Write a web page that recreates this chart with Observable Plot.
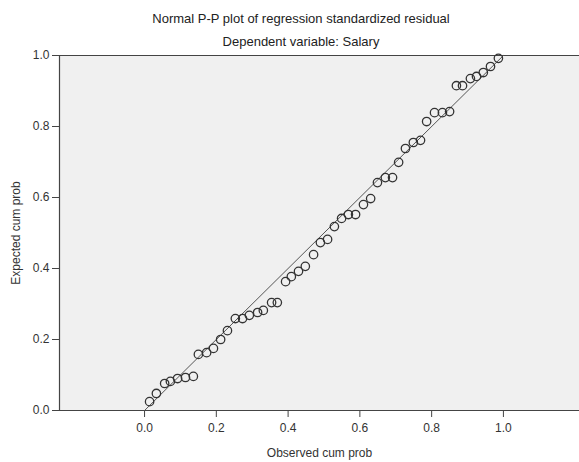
<!DOCTYPE html>
<html>
<head>
<meta charset="utf-8">
<script src="https://cdn.jsdelivr.net/npm/d3@7"></script>
<script src="https://cdn.jsdelivr.net/npm/@observablehq/plot@0.6"></script>
<style>
  body { margin: 0; background: #fff; }
  #wrap { position: relative; width: 579px; height: 462px; font-family: "Liberation Sans", Arial, sans-serif; }
  #title { position: absolute; left: 0; top: 7px; width: 602px; text-align: center; font-size: 13px; line-height: 23px; color: #222; }
</style>
</head>
<body>
<div id="wrap">
  <div id="title">
    <div>Normal P-P plot of regression standardized residual</div>
    <div>Dependent variable: Salary</div>
  </div>
</div>
<script>
const observed = [0.014,0.033,0.056,0.072,0.092,0.114,0.136,0.150,0.173,0.192,
  0.212,0.231,0.253,0.273,0.292,0.315,0.331,0.354,0.370,0.393,
  0.409,0.429,0.448,0.471,0.490,0.510,0.529,0.549,0.568,0.588,
  0.610,0.630,0.649,0.671,0.691,0.708,0.727,0.749,0.769,0.786,
  0.808,0.830,0.850,0.869,0.886,0.908,0.925,0.944,0.964,0.986];
const expected = [0.025,0.048,0.076,0.082,0.090,0.093,0.096,0.158,0.163,0.175,
  0.200,0.225,0.259,0.259,0.268,0.276,0.282,0.304,0.304,0.363,
  0.377,0.392,0.406,0.439,0.473,0.482,0.518,0.541,0.552,0.552,
  0.580,0.597,0.642,0.656,0.656,0.699,0.738,0.755,0.761,0.814,
  0.839,0.839,0.842,0.915,0.915,0.935,0.941,0.952,0.969,0.992];
const tickValues = [0, 0.2, 0.4, 0.6, 0.8, 1.0];
const xDomain = [-0.237, 1.212];
const yDomain = [0, 1];
const diagonal = [0, 1];

const points = observed.map((o, i) => ({observed: o, expected: expected[i]}));
const line = diagonal.map(v => ({observed: v, expected: v}));

const chart = Plot.plot({
  width: 579,
  height: 462,
  marginLeft: 59,
  marginRight: 0,
  marginTop: 55,
  marginBottom: 52,
  style: {fontFamily: "'Liberation Sans', Arial, sans-serif", fontSize: "12px", color: "#333", background: "transparent"},
  x: {domain: xDomain},
  y: {domain: yDomain},
  marks: [
    Plot.frame({fill: "#f0f0f0", stroke: null}),
    Plot.ruleY(yDomain, {stroke: "#444", strokeWidth: 1.2}),
    Plot.ruleX([xDomain[0]], {stroke: "#444", strokeWidth: 1.2}),
    Plot.axisX({ticks: tickValues, tickFormat: d3.format(".1f"), tickSize: 7, tickPadding: 6, stroke: "#444",
      label: "Observed cum prob", labelAnchor: "center", labelArrow: "none", labelOffset: 46}),
    Plot.axisY({ticks: tickValues, tickFormat: d3.format(".1f"), tickSize: 7, tickPadding: 3, stroke: "#444",
      label: "Expected cum prob", labelAnchor: "center", labelArrow: "none", labelOffset: 48}),
    Plot.line(line, {x: "observed", y: "expected", stroke: "#555", strokeWidth: 1}),
    Plot.dot(points, {x: "observed", y: "expected", r: 4.2, stroke: "#333", strokeWidth: 1.3, fill: "none"})
  ]
});
document.getElementById("wrap").prepend(chart);
chart.style.position = "absolute";
chart.style.left = "0";
chart.style.top = "0";
</script>
</body>
</html>
